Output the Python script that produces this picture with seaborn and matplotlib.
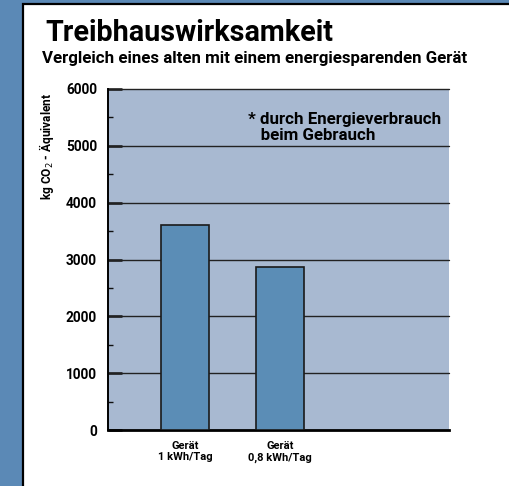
import matplotlib
matplotlib.use("Agg")
import matplotlib.pyplot as plt
import seaborn as sns
import pandas as pd
from matplotlib.patches import Rectangle
from matplotlib.ticker import MultipleLocator

categories = ["Gerät\n1 kWh/Tag", "Gerät\n0,8 kWh/Tag"]
values = [3600, 2870]
yticks = [0, 1000, 2000, 3000, 4000, 5000, 6000]

sns.set_theme(style="white")
FONT = ["Roboto", "DejaVu Sans"]
plt.rcParams["font.family"] = FONT

fig = plt.figure(figsize=(5.09, 4.86), dpi=100, facecolor="#5B89B6")
W, H = 509, 486
frame = Rectangle((23 / W, -0.02), (W - 23) / W + 0.05, (H - 4) / H + 0.02, transform=fig.transFigure,
                  facecolor="white", edgecolor="black", linewidth=1.6, zorder=-5)
fig.add_artist(frame)

ax = fig.add_axes([108 / W, 1 - 430 / H, (449 - 108) / W, (430 - 89) / H])
ax.set_zorder(2)
ax.set_facecolor("#A8B9D1")

df = pd.DataFrame({"cat": categories, "val": values})
sns.barplot(data=df, x="cat", y="val", color="#5B8DB6", edgecolor="#1a1a1a", linewidth=1.2,
            width=0.5, saturation=1, ax=ax, zorder=3)

ax.set_xlim(-0.81, 2.78)
ax.set_ylim(0, 6000)
ax.set_yticks(yticks)
ax.yaxis.set_minor_locator(MultipleLocator(500))
ax.set_yticklabels([str(t) for t in yticks], fontsize=9.8, fontweight="bold", family=FONT)
ax.set_xticklabels(categories, fontsize=8, fontweight="bold", family=FONT, linespacing=1.15)
for t in yticks[1:]:
    ax.axhline(t, color="#222222", linewidth=1.0, zorder=1, clip_on=False)
ax.tick_params(axis="y", which="major", direction="in", length=10, width=1.8, color="#111111",
               pad=8, labelcolor="black", left=True)
ax.tick_params(axis="y", which="minor", direction="in", length=3.5, width=1.0, color="#111111", left=True)
ax.tick_params(axis="x", which="both", length=0, pad=8, labelcolor="black")
for s in ["top", "right"]:
    ax.spines[s].set_visible(False)
ax.spines["left"].set_color("black")
ax.spines["left"].set_linewidth(1.4)
ax.spines["bottom"].set_color("black")
ax.spines["bottom"].set_linewidth(2.0)
ax.set_xlabel("")
ax.set_ylabel("")

fig.text(47 / W, 1 - 93 / H, "kg CO$_2$ - Äquivalent", fontsize=8.6, fontweight="bold", family=FONT,
         rotation=90, ha="center", va="top", color="black")

ax.text(0.41, 0.887, "* durch Energieverbrauch\n   beim Gebrauch", transform=ax.transAxes,
        fontsize=12.2, fontweight="bold", family=FONT, va="center", ha="left", linespacing=1.1,
        color="black")

fig.text(45 / W, 1 - 33 / H, "Treibhauswirksamkeit", fontsize=20.7, fontweight="bold",
         family=FONT, va="center", ha="left", color="black")
fig.text(42 / W, 1 - 58 / H, "Vergleich eines alten mit einem energiesparenden Gerät", fontsize=12.2,
         fontweight="bold", family=FONT, va="center", ha="left", color="black")

fig.savefig("out.png", dpi=100, facecolor=fig.get_facecolor())
